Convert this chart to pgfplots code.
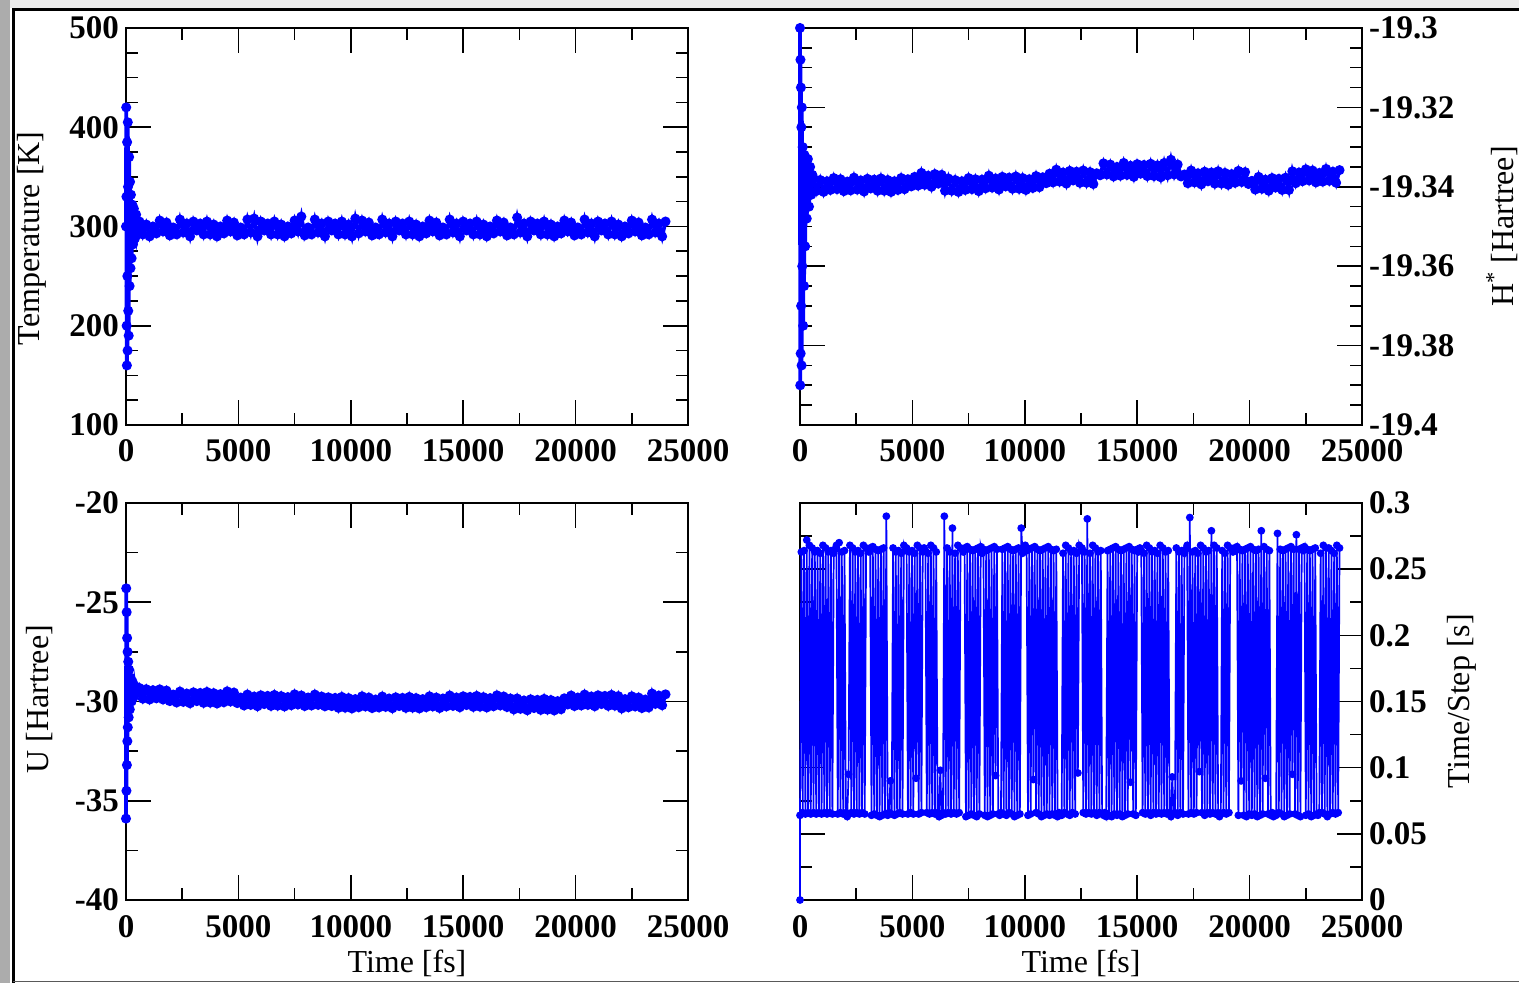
\documentclass[border=0pt]{standalone}
\usepackage{fontspec}
\setmainfont{Liberation Serif}
\usepackage{pgfplots}
\pgfplotsset{compat=1.18}

\tikzset{ylab/.style={font=\fontsize{16}{18}\selectfont, rotate=90, anchor=center}}
\pgfplotsset{
  panel/.style={
    width=281pt, height=198.5pt, scale only axis,
    xmin=0, xmax=25000, scaled x ticks=false, scaled y ticks=false,
    xtick={0,5000,10000,15000,20000,25000},
    xticklabels={0,5000,10000,15000,20000,25000},
    minor x tick num=1,
    tick align=inside, tick pos=both, xticklabel pos=lower,
    major tick length=12.5pt, minor tick length=6pt,
    axis line style={line width=1pt},
    tick style={black, line width=0.8pt},
    ticklabel style={font=\fontsize{16.5}{18}\selectfont\bfseries},
    xticklabel style={yshift=-4pt},
    every axis x label/.style={at={(axis description cs:0.5,-0.16)}, anchor=center,
      font=\fontsize{16}{18}\selectfont},
    clip=false,
  },
  dat/.style={color=blue, line width=1.9pt, mark=*, mark size=1.5pt, mark options={blue}},
}

\begin{document}
\begin{tikzpicture}
\useasboundingbox (0,0) rectangle (759.5pt,491.5pt);
\fill[white] (0,0) rectangle (759.5pt,491.5pt);
\fill[gray!65] (0,0) rectangle (5pt,491.5pt);
\fill[gray!15] (5pt,487.5pt) rectangle (759.5pt,491.5pt);

% ---- Temperature ----
\begin{axis}[panel, at={(63pt,279pt)}, anchor=south west,
  ymin=100, ymax=500, ytick={100,200,300,400,500},
  yticklabels={100,200,300,400,500}, minor y tick num=3,
  yticklabel pos=left, ylabel={Temperature [K]},
  every axis y label/.style={at={(axis description cs:-0.167,0.47)}, ylab}]
\addplot[dat] table {
t T
0 300
10 420
20 330
30 200
40 160
50 385
60 250
70 175
80 405
90 340
100 215
120 190
140 370
160 240
180 345
200 258
220 332
250 268
280 322
310 282
350 318
400 288
450 312
500 292
600 305
750 292
900 302
1050 290
1200 300
1350 293
1500 306
1650 295
1800 304
1950 291
2100 299
2250 292
2400 307
2550 294
2700 303
2850 290
3000 305
3150 296
3300 303
3450 292
3600 305
3750 292
3900 302
4050 290
4200 300
4350 293
4500 306
4650 295
4800 304
4950 291
5100 299
5250 292
5400 307
5550 294
5700 308
5850 290
6000 305
6150 296
6300 303
6450 292
6600 305
6750 292
6900 302
7050 290
7200 300
7350 293
7500 306
7650 295
7800 310
7950 291
8100 299
8250 292
8400 307
8550 294
8700 303
8850 290
9000 305
9150 296
9300 303
9450 292
9600 305
9750 292
9900 302
10050 290
10200 308
10350 293
10500 306
10650 295
10800 304
10950 291
11100 299
11250 292
11400 307
11550 294
11700 303
11850 290
12000 305
12150 296
12300 303
12450 292
12600 305
12750 292
12900 302
13050 290
13200 300
13350 293
13500 306
13650 295
13800 304
13950 291
14100 299
14250 292
14400 307
14550 294
14700 303
14850 290
15000 305
15150 296
15300 303
15450 292
15600 305
15750 292
15900 302
16050 290
16200 300
16350 293
16500 306
16650 295
16800 304
16950 291
17100 299
17250 292
17400 309
17550 294
17700 303
17850 290
18000 305
18150 296
18300 303
18450 292
18600 305
18750 292
18900 302
19050 290
19200 300
19350 293
19500 306
19650 295
19800 304
19950 291
20100 299
20250 292
20400 307
20550 294
20700 303
20850 290
21000 305
21150 296
21300 303
21450 292
21600 305
21750 292
21900 302
22050 290
22200 300
22350 293
22500 306
22650 295
22800 304
22950 291
23100 299
23250 292
23400 307
23550 294
23700 303
23850 290
24000 305
};
\end{axis}

% ---- H* ----
\begin{axis}[panel, at={(400pt,279pt)}, anchor=south west,
  ymin=-19.4, ymax=-19.3, ytick={-19.4,-19.38,-19.36,-19.34,-19.32,-19.3},
  yticklabels={-19.4,-19.38,-19.36,-19.34,-19.32,-19.3}, minor y tick num=3,
  yticklabel pos=right, ylabel={H\textsuperscript{*} [Hartree]},
  every axis y label/.style={at={(axis description cs:1.249,0.5)}, ylab}]
\addplot[dat] table {
t H
0 -19.3000
10 -19.3900
20 -19.3080
30 -19.3820
40 -19.3150
50 -19.3700
60 -19.3250
70 -19.3850
80 -19.3200
100 -19.3600
120 -19.3300
140 -19.3750
160 -19.3350
180 -19.3650
200 -19.3320
230 -19.3550
260 -19.3340
300 -19.3480
350 -19.3330
400 -19.3450
450 -19.3350
500 -19.3420
550 -19.3370
600 -19.3379
750 -19.3410
900 -19.3383
1050 -19.3413
1200 -19.3386
1350 -19.3408
1500 -19.3378
1650 -19.3406
1800 -19.3381
1950 -19.3411
2100 -19.3387
2250 -19.3409
2400 -19.3377
2550 -19.3407
2700 -19.3384
2850 -19.3412
3000 -19.3380
3150 -19.3404
3300 -19.3382
3450 -19.3410
3600 -19.3379
3750 -19.3410
3900 -19.3383
4050 -19.3413
4200 -19.3386
4350 -19.3408
4500 -19.3378
4650 -19.3406
4800 -19.3381
4950 -19.3399
5100 -19.3375
5250 -19.3397
5400 -19.3365
5550 -19.3395
5700 -19.3372
5850 -19.3400
6000 -19.3368
6150 -19.3392
6300 -19.3370
6450 -19.3410
6600 -19.3379
6750 -19.3410
6900 -19.3383
7050 -19.3413
7200 -19.3386
7350 -19.3408
7500 -19.3378
7650 -19.3406
7800 -19.3381
7950 -19.3411
8100 -19.3382
8250 -19.3404
8400 -19.3372
8550 -19.3402
8700 -19.3379
8850 -19.3407
9000 -19.3375
9150 -19.3399
9300 -19.3377
9450 -19.3405
9600 -19.3374
9750 -19.3405
9900 -19.3378
10050 -19.3408
10200 -19.3381
10350 -19.3403
10500 -19.3373
10650 -19.3401
10800 -19.3376
10950 -19.3391
11100 -19.3367
11250 -19.3389
11400 -19.3357
11550 -19.3387
11700 -19.3364
11850 -19.3392
12000 -19.3360
12150 -19.3384
12300 -19.3362
12450 -19.3390
12600 -19.3359
12750 -19.3390
12900 -19.3363
13050 -19.3393
13200 -19.3366
13350 -19.3371
13500 -19.3341
13650 -19.3369
13800 -19.3344
13950 -19.3374
14100 -19.3350
14250 -19.3372
14400 -19.3340
14550 -19.3370
14700 -19.3347
14850 -19.3375
15000 -19.3343
15150 -19.3367
15300 -19.3345
15450 -19.3373
15600 -19.3342
15750 -19.3373
15900 -19.3346
16050 -19.3376
16200 -19.3340
16350 -19.3371
16500 -19.3332
16650 -19.3369
16800 -19.3344
16950 -19.3374
17100 -19.3369
17250 -19.3391
17400 -19.3359
17550 -19.3389
17700 -19.3366
17850 -19.3394
18000 -19.3362
18150 -19.3386
18300 -19.3364
18450 -19.3392
18600 -19.3361
18750 -19.3392
18900 -19.3365
19050 -19.3395
19200 -19.3368
19350 -19.3390
19500 -19.3360
19650 -19.3388
19800 -19.3363
19950 -19.3393
20100 -19.3385
20250 -19.3407
20400 -19.3375
20550 -19.3405
20700 -19.3382
20850 -19.3410
21000 -19.3378
21150 -19.3402
21300 -19.3380
21450 -19.3408
21600 -19.3377
21750 -19.3408
21900 -19.3361
22050 -19.3391
22200 -19.3364
22350 -19.3386
22500 -19.3356
22650 -19.3384
22800 -19.3359
22950 -19.3389
23100 -19.3365
23250 -19.3387
23400 -19.3355
23550 -19.3385
23700 -19.3362
23850 -19.3390
24000 -19.3358
};
\end{axis}

% ---- U ----
\begin{axis}[panel, at={(63pt,41.5pt)}, anchor=south west,
  ymin=-40, ymax=-20, ytick={-40,-35,-30,-25,-20},
  yticklabels={-40,-35,-30,-25,-20}, minor y tick num=1,
  yticklabel pos=left, ylabel={U [Hartree]}, xlabel={Time [fs]},
  every axis y label/.style={at={(axis description cs:-0.153,0.506)}, ylab}]
\addplot[dat] table {
t U
0 -35.9
10 -24.3
20 -34.5
30 -25.5
40 -33.2
50 -26.8
60 -32.0
70 -27.5
80 -31.3
100 -28.0
120 -30.8
140 -28.4
170 -30.4
200 -28.8
240 -30.0
280 -29.0
330 -29.8
380 -29.2
430 -29.6
480 -29.3
530 -29.55
600 -29.32
750 -29.86
900 -29.38
1050 -29.90
1200 -29.43
1350 -29.84
1500 -29.39
1650 -29.90
1800 -29.45
1950 -29.98
2100 -29.65
2250 -30.05
2400 -29.50
2550 -30.02
2700 -29.60
2850 -30.09
3000 -29.54
3150 -29.98
3300 -29.57
3450 -30.07
3600 -29.52
3750 -30.06
3900 -29.58
4050 -30.10
4200 -29.63
4350 -30.04
4500 -29.49
4650 -30.00
4800 -29.55
4950 -30.08
5100 -29.80
5250 -30.20
5400 -29.65
5550 -30.17
5700 -29.75
5850 -30.24
6000 -29.69
6150 -30.13
6300 -29.72
6450 -30.22
6600 -29.67
6750 -30.21
6900 -29.73
7050 -30.25
7200 -29.78
7350 -30.19
7500 -29.64
7650 -30.15
7800 -29.70
7950 -30.23
8100 -29.80
8250 -30.20
8400 -29.65
8550 -30.17
8700 -29.75
8850 -30.24
9000 -29.79
9150 -30.23
9300 -29.82
9450 -30.32
9600 -29.77
9750 -30.31
9900 -29.83
10050 -30.35
10200 -29.88
10350 -30.29
10500 -29.74
10650 -30.25
10800 -29.80
10950 -30.33
11100 -29.90
11250 -30.30
11400 -29.75
11550 -30.27
11700 -29.85
11850 -30.34
12000 -29.79
12150 -30.23
12300 -29.82
12450 -30.32
12600 -29.77
12750 -30.31
12900 -29.83
13050 -30.35
13200 -29.88
13350 -30.29
13500 -29.74
13650 -30.25
13800 -29.80
13950 -30.33
14100 -29.85
14250 -30.25
14400 -29.70
14550 -30.22
14700 -29.80
14850 -30.29
15000 -29.74
15150 -30.18
15300 -29.77
15450 -30.27
15600 -29.72
15750 -30.26
15900 -29.78
16050 -30.30
16200 -29.83
16350 -30.24
16500 -29.69
16650 -30.20
16800 -29.75
16950 -30.28
17100 -29.85
17250 -30.40
17400 -29.85
17550 -30.37
17700 -29.95
17850 -30.44
18000 -29.89
18150 -30.33
18300 -29.92
18450 -30.42
18600 -29.87
18750 -30.41
18900 -29.93
19050 -30.45
19200 -29.98
19350 -30.39
19500 -29.84
19650 -30.15
19800 -29.70
19950 -30.23
20100 -29.80
20250 -30.20
20400 -29.65
20550 -30.17
20700 -29.75
20850 -30.24
21000 -29.69
21150 -30.13
21300 -29.72
21450 -30.22
21600 -29.67
21750 -30.21
21900 -29.73
22050 -30.35
22200 -29.88
22350 -30.29
22500 -29.74
22650 -30.25
22800 -29.80
22950 -30.33
23100 -29.90
23250 -30.30
23400 -29.60
23550 -30.12
23700 -29.70
23850 -30.19
24000 -29.64
};
\end{axis}

% ---- Time/Step ----
\begin{axis}[panel, at={(400pt,41.5pt)}, anchor=south west,
  ymin=0, ymax=0.3, ytick={0,0.05,0.1,0.15,0.2,0.25,0.3},
  yticklabels={0,0.05,0.1,0.15,0.2,0.25,0.3}, minor y tick num=1,
  yticklabel pos=right, ylabel={Time/Step [s]}, xlabel={Time [fs]},
  every axis y label/.style={at={(axis description cs:1.178,0.501)}, ylab}]
\addplot[color=blue, line width=0.85pt, mark=*, mark size=1.5pt, mark options={blue}] table {
t s
0 0
0 0.064
60 0.263
120 0.066
180 0.264
240 0.065
300 0.272
360 0.066
420 0.268
480 0.065
540 0.266
600 0.066
660 0.263
720 0.065
780 0.264
840 0.066
900 0.262
960 0.065
1020 0.268
1080 0.066
1140 0.266
1200 0.065
1260 0.263
1320 0.066
1380 0.264
1440 0.065
1500 0.262
1560 0.265
1620 0.268
1680 0.065
1740 0.270
1800 0.066
1860 0.263
1920 0.065
1980 0.264
2040 0.066
2100 0.063
2160 0.095
2220 0.268
2280 0.066
2340 0.266
2400 0.065
2460 0.263
2520 0.066
2580 0.264
2640 0.065
2700 0.262
2760 0.066
2820 0.268
2880 0.065
2940 0.266
3000 0.265
3060 0.263
3120 0.266
3180 0.064
3240 0.267
3300 0.065
3360 0.265
3420 0.064
3480 0.264
3540 0.063
3600 0.265
3660 0.064
3720 0.266
3780 0.065
3840 0.290
3900 0.064
3960 0.066
4020 0.090
4080 0.065
4140 0.266
4200 0.064
4260 0.263
4320 0.065
4380 0.264
4440 0.066
4500 0.262
4560 0.065
4620 0.268
4680 0.264
4740 0.266
4800 0.065
4860 0.263
4920 0.066
4980 0.264
5040 0.065
5100 0.262
5160 0.092
5220 0.268
5280 0.065
5340 0.266
5400 0.066
5460 0.263
5520 0.266
5580 0.264
5640 0.066
5700 0.262
5760 0.065
5820 0.268
5880 0.066
5940 0.266
6000 0.065
6060 0.263
6120 0.066
6180 0.063
6240 0.098
6300 0.064
6360 0.066
6420 0.290
6480 0.065
6540 0.266
6600 0.066
6660 0.263
6720 0.065
6780 0.281
6840 0.066
6900 0.262
6960 0.065
7020 0.268
7080 0.066
7140 0.266
7200 0.265
7260 0.263
7320 0.266
7380 0.063
7440 0.267
7500 0.064
7560 0.265
7620 0.065
7680 0.264
7740 0.064
7800 0.265
7860 0.063
7920 0.266
7980 0.065
8040 0.267
8100 0.262
8160 0.265
8220 0.064
8280 0.264
8340 0.063
8400 0.265
8460 0.064
8520 0.266
8580 0.065
8640 0.267
8700 0.094
8760 0.265
8820 0.065
8880 0.064
8940 0.066
9000 0.265
9060 0.065
9120 0.266
9180 0.064
9240 0.267
9300 0.066
9360 0.265
9420 0.065
9480 0.264
9540 0.063
9600 0.265
9660 0.064
9720 0.266
9780 0.065
9840 0.281
9900 0.262
9960 0.265
10020 0.268
10080 0.264
10140 0.064
10200 0.265
10260 0.065
10320 0.266
10380 0.091
10440 0.267
10500 0.066
10560 0.265
10620 0.065
10680 0.264
10740 0.063
10800 0.265
10860 0.064
10920 0.266
10980 0.065
11040 0.267
11100 0.064
11160 0.265
11220 0.065
11280 0.264
11340 0.064
11400 0.265
11460 0.063
11520 0.066
11580 0.065
11640 0.064
11700 0.262
11760 0.066
11820 0.268
11880 0.065
11940 0.266
12000 0.064
12060 0.263
12120 0.066
12180 0.264
12240 0.065
12300 0.262
12360 0.096
12420 0.268
12480 0.264
12540 0.266
12600 0.066
12660 0.263
12720 0.065
12780 0.288
12840 0.066
12900 0.262
12960 0.065
13020 0.268
13080 0.066
13140 0.266
13200 0.064
13260 0.263
13320 0.066
13380 0.264
13440 0.065
13500 0.064
13560 0.066
13620 0.063
13680 0.264
13740 0.064
13800 0.265
13860 0.063
13920 0.266
13980 0.065
14040 0.267
14100 0.064
14160 0.265
14220 0.065
14280 0.264
14340 0.063
14400 0.265
14460 0.064
14520 0.266
14580 0.065
14640 0.267
14700 0.089
14760 0.265
14820 0.065
14880 0.264
14940 0.064
15000 0.265
15060 0.263
15120 0.266
15180 0.264
15240 0.066
15300 0.262
15360 0.065
15420 0.268
15480 0.066
15540 0.266
15600 0.064
15660 0.263
15720 0.066
15780 0.264
15840 0.065
15900 0.262
15960 0.066
16020 0.268
16080 0.065
16140 0.266
16200 0.066
16260 0.263
16320 0.065
16380 0.264
16440 0.066
16500 0.063
16560 0.093
16620 0.065
16680 0.066
16740 0.266
16800 0.064
16860 0.263
16920 0.066
16980 0.264
17040 0.065
17100 0.262
17160 0.265
17220 0.268
17280 0.065
17340 0.289
17400 0.066
17460 0.263
17520 0.065
17580 0.264
17640 0.066
17700 0.262
17760 0.097
17820 0.268
17880 0.066
17940 0.266
18000 0.064
18060 0.263
18120 0.066
18180 0.264
18240 0.065
18300 0.279
18360 0.066
18420 0.268
18480 0.065
18540 0.266
18600 0.066
18660 0.063
18720 0.065
18780 0.264
18840 0.066
18900 0.262
18960 0.065
19020 0.268
19080 0.066
19140 0.266
19200 0.265
19260 0.263
19320 0.266
19380 0.264
19440 0.267
19500 0.064
19560 0.265
19620 0.090
19680 0.264
19740 0.064
19800 0.265
19860 0.063
19920 0.266
19980 0.065
20040 0.267
20100 0.064
20160 0.265
20220 0.065
20280 0.264
20340 0.063
20400 0.265
20460 0.064
20520 0.279
20580 0.065
20640 0.267
20700 0.092
20760 0.265
20820 0.065
20880 0.264
20940 0.064
21000 0.066
21060 0.063
21120 0.065
21180 0.064
21240 0.277
21300 0.066
21360 0.265
21420 0.065
21480 0.264
21540 0.063
21600 0.265
21660 0.064
21720 0.266
21780 0.065
21840 0.267
21900 0.095
21960 0.265
22020 0.065
22080 0.276
22140 0.064
22200 0.265
22260 0.063
22320 0.266
22380 0.264
22440 0.267
22500 0.064
22560 0.265
22620 0.065
22680 0.264
22740 0.063
22800 0.265
22860 0.064
22920 0.266
22980 0.065
23040 0.064
23100 0.066
23160 0.262
23220 0.066
23280 0.268
23340 0.065
23400 0.266
23460 0.063
23520 0.266
23580 0.065
23640 0.264
23700 0.066
23760 0.262
23820 0.065
23880 0.268
23940 0.066
24000 0.266
};
\end{axis}

\draw[black, line width=1.5pt] (6.5pt,0) -- (6.5pt,486.5pt) -- (759.5pt,486.5pt);
\draw[gray!70!black, line width=0.6pt] (6.5pt,0.8pt) -- (759.5pt,0.8pt);
\end{tikzpicture}
\end{document}
